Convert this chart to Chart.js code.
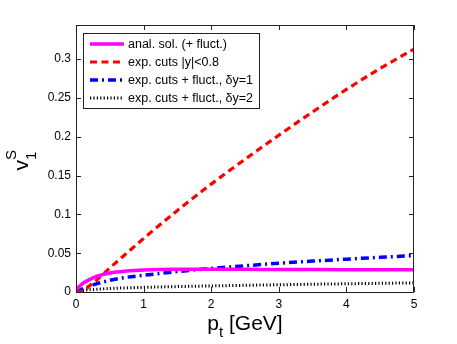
<!DOCTYPE html>
<html>
<head>
<meta charset="utf-8">
<script src="https://cdn.jsdelivr.net/npm/chart.js@4.4.0/dist/chart.umd.min.js"></script>
<style>
  html, body { margin: 0; padding: 0; background: #fff; }
  #wrap { width: 457px; height: 344px; }
</style>
</head>
<body>
<div id="wrap"><canvas id="v1Chart" width="457" height="344"></canvas></div>
<script>
// v1^S vs pt, four curves

const ptValues = [0, 0.1, 0.2, 0.3, 0.5, 0.75, 1, 1.5, 2, 2.5, 3, 3.5, 4, 4.5, 5];

const analSol   = [0.003, 0.011, 0.016, 0.020, 0.0245, 0.027, 0.0283, 0.0292, 0.0293, 0.0292, 0.029, 0.0289, 0.0288, 0.0287, 0.0286];
const expCuts   = [0, 0.001, 0.008, 0.015, 0.031, 0.050, 0.069, 0.105, 0.139, 0.171, 0.202, 0.232, 0.261, 0.288, 0.313];
const fluctDy1  = [0, 0.004, 0.0075, 0.0105, 0.015, 0.019, 0.0215, 0.0263, 0.0303, 0.0338, 0.037, 0.0398, 0.0423, 0.0447, 0.047];
const fluctDy2  = [0.001, 0.002, 0.003, 0.0035, 0.0045, 0.0053, 0.006, 0.007, 0.0078, 0.0086, 0.0093, 0.01, 0.0106, 0.0112, 0.0118];

const seriesLabels = ['anal. sol. (+ fluct.)', 'exp. cuts |y|<0.8', 'exp. cuts + fluct., \u03b4y=1', 'exp. cuts + fluct., \u03b4y=2'];

const xTicks = [0, 1, 2, 3, 4, 5];
const yTicks = [0, 0.05, 0.1, 0.15, 0.2, 0.25, 0.3];
const yTickLabels = ['0', '0.05', '0.1', '0.15', '0.2', '0.25', '0.3'];

const FONT = 'Liberation Sans, Arial, Helvetica, sans-serif';

function toPoints(arr) {
    return ptValues.map((x, i) => ({ x: x, y: arr[i] }));
}

function makeSet(label, values, color, width, dash) {
    return {
        label: label,
        data: toPoints(values),
        borderColor: color,
        backgroundColor: color,
        borderWidth: width,
        borderDash: dash,
        pointRadius: 0,
        fill: false,
        cubicInterpolationMode: 'monotone'
    };
}

// frame, inward ticks, axis titles and the boxed legend (MATLAB look)
const matlabLook = {
    id: 'matlabLook',
    afterDatasetsDraw(chart) {
        const ctx = chart.ctx;
        const a = chart.chartArea;
        const xs = chart.scales.x, ys = chart.scales.y;
        ctx.save();

        // box
        ctx.strokeStyle = '#222';
        ctx.lineWidth = 1;
        ctx.strokeRect(a.left + 0.5, a.top + 0.5, a.right - a.left - 1, a.bottom - a.top);

        // inward ticks
        const tl = 5;
        ctx.beginPath();
        xTicks.forEach(v => {
            const px = Math.round(xs.getPixelForValue(v)) + 0.5;
            ctx.moveTo(px, a.bottom); ctx.lineTo(px, a.bottom - tl);
            ctx.moveTo(px, a.top); ctx.lineTo(px, a.top + tl);
        });
        yTicks.forEach(v => {
            const py = Math.round(ys.getPixelForValue(v)) + 0.5;
            ctx.moveTo(a.left, py); ctx.lineTo(a.left + tl, py);
            ctx.moveTo(a.right, py); ctx.lineTo(a.right - tl, py);
        });
        ctx.stroke();

        // legend
        const lx = a.left + 7, ly = a.top + 8, lw = 176, lh = 75;
        ctx.fillStyle = '#fff';
        ctx.fillRect(lx, ly, lw, lh);
        ctx.strokeStyle = '#222';
        ctx.strokeRect(lx + 0.5, ly + 0.5, lw, lh);
        ctx.font = '12.5px ' + FONT;
        ctx.textBaseline = 'middle';
        chart.data.datasets.forEach((ds, i) => {
            const ry = ly + 11 + i * 18;
            ctx.beginPath();
            ctx.strokeStyle = ds.borderColor;
            ctx.lineWidth = ds.borderWidth;
            ctx.setLineDash(ds.borderDash || []);
            ctx.moveTo(lx + 7, ry);
            ctx.lineTo(lx + 41, ry);
            ctx.stroke();
            ctx.setLineDash([]);
            ctx.fillStyle = '#000';
            ctx.fillText(ds.label, lx + 45, ry + 1);
        });

        // x title: p_t [GeV]
        ctx.fillStyle = '#000';
        ctx.textBaseline = 'alphabetic';
        const cx = (a.left + a.right) / 2;
        ctx.font = '21px ' + FONT;
        const wp = ctx.measureText('p').width;
        const wg = ctx.measureText(' [GeV]').width;
        ctx.font = '15px ' + FONT;
        const wt = ctx.measureText('t').width;
        let x0 = cx - (wp + wt + wg) / 2;
        const base = 330;
        ctx.font = '21px ' + FONT;
        ctx.fillText('p', x0, base);
        ctx.font = '15px ' + FONT;
        ctx.fillText('t', x0 + wp, base + 7);
        ctx.font = '21px ' + FONT;
        ctx.fillText(' [GeV]', x0 + wp + wt, base);

        // y title: v_1^S rotated
        ctx.translate(28, (a.top + a.bottom) / 2);
        ctx.rotate(-Math.PI / 2);
        ctx.font = '21px ' + FONT;
        const wv = ctx.measureText('v').width;
        ctx.fillText('v', -12, 0);
        ctx.font = '15px ' + FONT;
        ctx.fillText('1', -12 + wv, 8);
        ctx.fillText('S', -12 + wv, -12);
        ctx.restore();
    }
};

const chart = new Chart(document.getElementById('v1Chart').getContext('2d'), {
    type: 'line',
    data: {
        datasets: [
            makeSet(seriesLabels[0], analSol, '#ff00ff', 3.5, []),
            makeSet(seriesLabels[1], expCuts, '#ff0000', 3.2, [7, 4.5]),
            makeSet(seriesLabels[2], fluctDy1, '#0000ff', 3.5, [8, 4, 2, 4]),
            makeSet(seriesLabels[3], fluctDy2, '#000000', 3, [1.2, 2.2])
        ]
    },
    options: {
        responsive: false,
        animation: false,
        layout: { padding: { left: 0, top: 25, right: 43, bottom: 0 } },
        plugins: { legend: { display: false }, tooltip: { enabled: false } },
        scales: {
            x: {
                type: 'linear',
                min: 0, max: 5,
                afterBuildTicks: s => { s.ticks = xTicks.map(v => ({ value: v })); },
                afterFit: s => { s.height = 52; },
                grid: { display: false, drawTicks: false },
                border: { display: false },
                ticks: { color: '#000', padding: 5, font: { family: FONT, size: 12 }, maxRotation: 0,
                         callback: v => String(v) }
            },
            y: {
                type: 'linear',
                min: 0, max: 0.344,
                afterBuildTicks: s => { s.ticks = yTicks.map(v => ({ value: v })); },
                afterFit: s => { s.width = 76; },
                grid: { display: false, drawTicks: false },
                border: { display: false },
                ticks: { color: '#000', padding: 5, font: { family: FONT, size: 12 },
                         callback: (v, i) => yTickLabels[i] }
            }
        }
    },
    plugins: [matlabLook]
});
</script>
</body>
</html>
